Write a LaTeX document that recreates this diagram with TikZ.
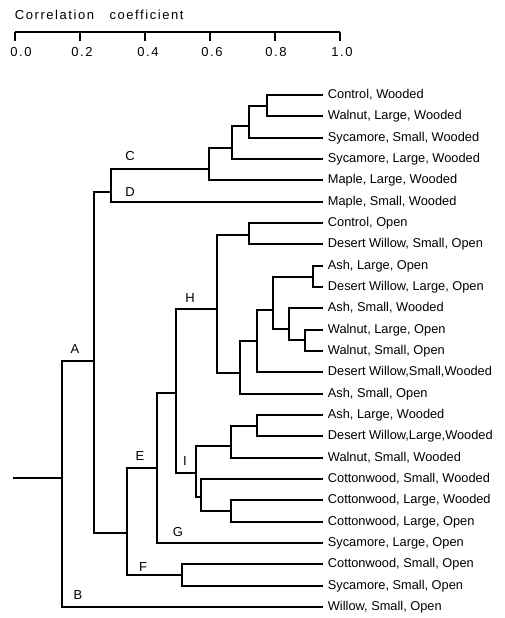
\documentclass[tikz,border=0pt]{standalone}
\usepackage{fontspec}
\setmainfont{Liberation Sans}
\begin{document}
\begin{tikzpicture}[x=1pt,y=-1pt,line width=1.8pt,
  leaf/.style={anchor=west,font=\fontsize{12.8}{14}\selectfont,inner sep=0pt},
  clab/.style={font=\fontsize{13}{15}\selectfont,inner sep=0pt},
  ticklab/.style={font=\fontsize{13}{15}\selectfont\addfontfeature{LetterSpace=12},inner sep=0pt},
  axisline/.style={line width=1.5pt}]
\useasboundingbox (0,0) rectangle (504,618);
% axis
\node[clab,anchor=west,font=\fontsize{13}{15}\selectfont\addfontfeature{LetterSpace=12}] (title) at (14,15) {Correlation\ \ \ coefficient};
\coordinate (ax0) at (15,32);
\coordinate (ax1) at (340,32);
\draw[axisline] (ax0) -- (ax1);
\foreach \v/\lx [count=\i from 0] in {0.0/21,0.2/82,0.4/148,0.6/212,0.8/276,1.0/342} {
  \coordinate (t\i) at ({15+65*\i},32);
  \coordinate (tb\i) at ({15+65*\i},41);
  \draw[axisline] (t\i) -- (tb\i);
  \node[ticklab] (tl\i) at (\lx,52) {\v};
}
% leaves
\foreach \t [count=\i from 0] in {
  {Control, Wooded},
  {Walnut, Large, Wooded},
  {Sycamore, Small, Wooded},
  {Sycamore, Large, Wooded},
  {Maple, Large, Wooded},
  {Maple, Small, Wooded},
  {Control, Open},
  {Desert Willow, Small, Open},
  {Ash, Large, Open},
  {Desert Willow, Large, Open},
  {Ash, Small, Wooded},
  {Walnut, Large, Open},
  {Walnut, Small, Open},
  {Desert Willow,Small,Wooded},
  {Ash, Small, Open},
  {Ash, Large, Wooded},
  {Desert Willow,Large,Wooded},
  {Walnut, Small, Wooded},
  {Cottonwood, Small, Wooded},
  {Cottonwood, Large, Wooded},
  {Cottonwood, Large, Open},
  {Sycamore, Large, Open},
  {Cottonwood, Small, Open},
  {Sycamore, Small, Open},
  {Willow, Small, Open}} {
  \pgfmathsetmacro\yy{round(95+21.33*\i)}
  \coordinate (e\i) at (323,\yy);
  \node[leaf] (l\i) at (327,\yy) {\t};
}
% internal nodes
\coordinate (c01) at (267,106);
\coordinate (c012) at (249,126);
\coordinate (c0123) at (232,148);
\coordinate (cC) at (209,169);
\coordinate (cCD) at (111,192);
\coordinate (cA) at (94,361);
\coordinate (cR) at (62,478);
\coordinate (stem) at (13,478);
\coordinate (c67) at (249,235);
\coordinate (c89) at (313,277);
\coordinate (c1112) at (305,340);
\coordinate (c1012) at (289,329);
\coordinate (c812) at (273,310);
\coordinate (c813) at (257,341);
\coordinate (c814) at (240,373);
\coordinate (cH) at (217,309);
\coordinate (c1516) at (257,426);
\coordinate (c1517) at (231,446);
\coordinate (c1920) at (231,511);
\coordinate (c1820) at (201,497);
\coordinate (cI) at (196,473);
\coordinate (cHI) at (176,393);
\coordinate (cG) at (157,468);
\coordinate (cF) at (182,575);
\coordinate (cE) at (127,533);
% branches
\draw (e0) -| (c01) |- (e1);
\draw (c01) -| (c012) |- (e2);
\draw (c012) -| (c0123) |- (e3);
\draw (c0123) -| (cC) |- (e4);
\draw (cC) -| (cCD) |- (e5);
\draw (cCD) -| (cA) |- (cE);
\draw (cA) -| (cR) |- (e24);
\draw (stem) -- (cR);
\draw (e6) -| (c67) |- (e7);
\draw (c67) -| (cH) |- (c814);
\draw (e8) -| (c89) |- (e9);
\draw (e11) -| (c1112) |- (e12);
\draw (e10) -| (c1012) |- (c1112);
\draw (c89) -| (c812) |- (c1012);
\draw (c812) -| (c813) |- (e13);
\draw (c813) -| (c814) |- (e14);
\draw (e15) -| (c1516) |- (e16);
\draw (c1516) -| (c1517) |- (e17);
\draw (e19) -| (c1920) |- (e20);
\draw (e18) -| (c1820) |- (c1920);
\draw (c1517) -| (cI) |- (c1820);
\draw (cH) -| (cHI) |- (cI);
\draw (cHI) -| (cG) |- (e21);
\draw (e22) -| (cF) |- (e23);
\draw (cG) -| (cE) |- (cF);
% cluster labels
\node[clab] (labA) at (75,349) {A};
\node[clab] (labB) at (78,595) {B};
\node[clab] (labC) at (130,156) {C};
\node[clab] (labD) at (130,192) {D};
\node[clab] (labE) at (140,456) {E};
\node[clab] (labF) at (143,567) {F};
\node[clab] (labG) at (178,532) {G};
\node[clab] (labH) at (190,298) {H};
\node[clab] (labI) at (185,461) {I};
\end{tikzpicture}
\end{document}
